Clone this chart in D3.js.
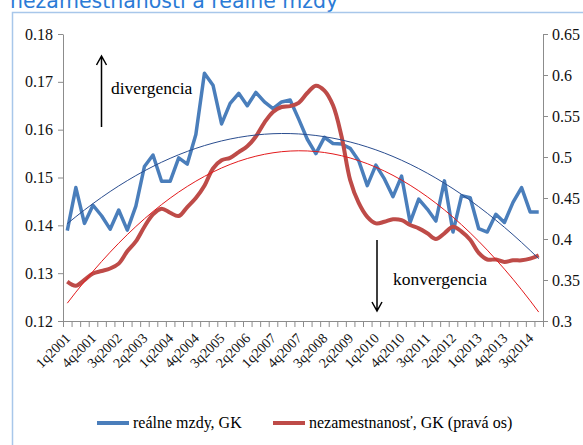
<!DOCTYPE HTML>
<html>
<head>
	<title>Nezamestnanosť a reálne mzdy</title>
	<meta http-equiv="Content-Type" content="text/html; charset=utf-8">
	<script src="https://cdn.jsdelivr.net/npm/d3@7/dist/d3.min.js"></script>
	<style type="text/css">
		body { margin: 0; background-color: #ffffff; }
		.axis path, .axis line { stroke: #8c8c8c; }
	</style>
</head>
<body>
	<div id="picture"></div>
	<script>
var width  = 583;
var height = 445;

var quarters = [
	"1q2001","2q2001","3q2001","4q2001","1q2002","2q2002","3q2002","4q2002",
	"1q2003","2q2003","3q2003","4q2003","1q2004","2q2004","3q2004","4q2004",
	"1q2005","2q2005","3q2005","4q2005","1q2006","2q2006","3q2006","4q2006",
	"1q2007","2q2007","3q2007","4q2007","1q2008","2q2008","3q2008","4q2008",
	"1q2009","2q2009","3q2009","4q2009","1q2010","2q2010","3q2010","4q2010",
	"1q2011","2q2011","3q2011","4q2011","1q2012","2q2012","3q2012","4q2012",
	"1q2013","2q2013","3q2013","4q2013","1q2014","2q2014","3q2014","4q2014"
];

// realne mzdy, GK (left axis)
var wages = [
	0.1389, 0.1479, 0.1404, 0.1442, 0.1420, 0.1392, 0.1432, 0.1390,
	0.1440, 0.1523, 0.1547, 0.1492, 0.1492, 0.1541, 0.1528, 0.1590,
	0.1718, 0.1693, 0.1612, 0.1655, 0.1676, 0.1650, 0.1678, 0.1658,
	0.1644, 0.1658, 0.1662, 0.1622, 0.1580, 0.1550, 0.1584, 0.1571,
	0.1570, 0.1561, 0.1535, 0.1483, 0.1526, 0.1497, 0.1460, 0.1503,
	0.1406, 0.1455, 0.1434, 0.1409, 0.1493, 0.1386, 0.1462, 0.1458,
	0.1393, 0.1386, 0.1423, 0.1406, 0.1448, 0.1479, 0.1428, 0.1428
];

// nezamestnanost, GK (right axis)
var unemployment = [
	0.348, 0.343, 0.350, 0.358, 0.361, 0.364, 0.370, 0.385,
	0.397, 0.415, 0.430, 0.437, 0.432, 0.428, 0.439, 0.450,
	0.465, 0.486, 0.496, 0.499, 0.506, 0.513, 0.525, 0.542,
	0.555, 0.561, 0.562, 0.566, 0.578, 0.587, 0.581, 0.563,
	0.525, 0.472, 0.444, 0.427, 0.419, 0.421, 0.424, 0.423,
	0.417, 0.413, 0.407, 0.400, 0.407, 0.415, 0.409, 0.399,
	0.383, 0.375, 0.375, 0.372, 0.374, 0.374, 0.376, 0.380
];

var leftTicks  = [0.12, 0.13, 0.14, 0.15, 0.16, 0.17, 0.18];
var rightTicks = [0.3, 0.35, 0.4, 0.45, 0.5, 0.55, 0.6, 0.65];
var labelStep  = 3;

var seriesNames = ["reálne mzdy, GK", "nezamestnanosť, GK (pravá os)"];
var title = "nezamestnanosti a reálne mzdy";

var serif = "'Liberation Serif', 'Times New Roman', serif";

// least squares polynomial of order 2 (like the excel trendline)
function QuadFit(values) {
	var s = [0, 0, 0, 0, 0], t = [0, 0, 0];
	values.forEach(function(v, i) {
		var x = i + 1;
		for(var k = 0; k < 5; k++) s[k] += Math.pow(x, k);
		for(k = 0; k < 3; k++) t[k] += v * Math.pow(x, k);
	});
	var m = [[s[0], s[1], s[2], t[0]], [s[1], s[2], s[3], t[1]], [s[2], s[3], s[4], t[2]]];
	for(var c = 0; c < 3; c++)
		for(var r = 0; r < 3; r++) {
			if(r == c) continue;
			var f = m[r][c] / m[c][c];
			for(var k2 = c; k2 < 4; k2++) m[r][k2] -= f * m[c][k2];
		}
	var a = m[0][3] / m[0][0], b = m[1][3] / m[1][1], q = m[2][3] / m[2][2];
	return values.map(function(v, i) { var x = i + 1; return a + b * x + q * x * x; });
}

var plot = {left: 63, right: 543, top: 34, bottom: 321};

var svg = d3.select("#picture")
	.append("svg")
		.attr("width",  width)
		.attr("height", height);

// title (cut by the top edge, as in the source) and frame
svg.append("text")
	.attr("x", 10).attr("y", 8)
	.style("font-family", "'DejaVu Sans', sans-serif")
	.style("font-size", "20.5px")
	.style("fill", "#2b7bd6")
	.text(title);

svg.append("path")
	.attr("d", "M12.5," + height + "V12.5H" + width)
	.attr("fill", "none")
	.attr("stroke", "#a8c7ea")
	.attr("stroke-width", 1.5);

var x = d3.scaleBand()
	.domain(d3.range(quarters.length))
	.range([plot.left, plot.right]);
var xEdge = d3.scaleLinear()
	.domain([0, quarters.length])
	.range([plot.left, plot.right]);
var yL = d3.scaleLinear().domain([0.12, 0.18]).range([plot.bottom, plot.top]);
var yR = d3.scaleLinear().domain([0.3, 0.65]).range([plot.bottom, plot.top]);

function StyleAxis(g) {
	g.attr("font-family", null).attr("font-size", null);
	g.selectAll("text")
		.style("font-family", serif)
		.style("font-size", "16px")
		.style("fill", "#111");
}

svg.append("g")
	.attr("class", "axis")
	.attr("transform", "translate(" + plot.left + ",0)")
	.call(d3.axisLeft(yL).tickValues(leftTicks).tickSize(5).tickSizeOuter(0).tickPadding(5)
		.tickFormat(d3.format(".2f")))
	.call(StyleAxis);

svg.append("g")
	.attr("class", "axis")
	.attr("transform", "translate(" + plot.right + ",0)")
	.call(d3.axisRight(yR).tickValues(rightTicks).tickSize(5).tickSizeOuter(0).tickPadding(4)
		.tickFormat(function(d) { return String(+d.toFixed(2)); }))
	.call(StyleAxis);

svg.append("g")
	.attr("class", "axis")
	.attr("transform", "translate(0," + plot.bottom + ")")
	.call(d3.axisBottom(xEdge).tickValues(d3.range(quarters.length + 1)).tickSize(6)
		.tickSizeOuter(0).tickFormat(""));

svg.append("g")
	.selectAll("text")
	.data(d3.range(0, quarters.length, labelStep))
	.join("text")
		.style("font-family", serif)
		.style("font-size", "14px")
		.style("fill", "#111")
		.attr("text-anchor", "end")
		.attr("transform", function(i) {
			return "translate(" + (x(i) + x.bandwidth() / 2 + 4) + ",339) rotate(-45)";
		})
		.text(function(i) { return quarters[i]; });

// series
var lineL = d3.line()
	.x(function(d, i) { return x(i) + x.bandwidth() / 2; })
	.y(function(d) { return yL(d); });
var lineR = d3.line()
	.x(function(d, i) { return x(i) + x.bandwidth() / 2; })
	.y(function(d) { return yR(d); })
	.curve(d3.curveCatmullRom);

svg.append("path")
	.attr("d", lineL(wages))
	.attr("fill", "none").attr("stroke", "#4a7ebb")
	.attr("stroke-width", 3.5).attr("stroke-linejoin", "round");

svg.append("path")
	.attr("d", lineR(unemployment))
	.attr("fill", "none").attr("stroke", "#be4b48")
	.attr("stroke-width", 4).attr("stroke-linejoin", "round");

// trendlines
svg.append("path")
	.attr("d", lineL.curve(d3.curveMonotoneX)(QuadFit(wages)))
	.attr("fill", "none").attr("stroke", "#2a4d8f").attr("stroke-width", 1);

svg.append("path")
	.attr("d", lineR.curve(d3.curveMonotoneX)(QuadFit(unemployment)))
	.attr("fill", "none").attr("stroke", "#e31a1c").attr("stroke-width", 1);

// annotations
function Arrow(px, y0, y1) {
	var dir = y1 < y0 ? 1 : -1;
	svg.append("path")
		.attr("d", "M" + px + "," + y0 + "V" + y1 +
			"M" + (px - 5) + "," + (y1 + dir * 9) + "L" + px + "," + y1 + "L" + (px + 5) + "," + (y1 + dir * 9))
		.attr("fill", "none").attr("stroke", "#000").attr("stroke-width", 1.5);
}
Arrow(101.5, 127, 56);
Arrow(377, 240, 311);

svg.append("text").style("font-family", serif).style("font-size", "17.5px")
	.attr("x", 111).attr("y", 94).text("divergencia");
svg.append("text").style("font-family", serif).style("font-size", "17.5px")
	.attr("x", 393).attr("y", 285).text("konvergencia");

// legend
var legend = [
	{name: seriesNames[0], color: "#4a7ebb", x: 97},
	{name: seriesNames[1], color: "#be4b48", x: 273}
];
legend.forEach(function(l) {
	svg.append("line")
		.attr("x1", l.x).attr("x2", l.x + 32).attr("y1", 423).attr("y2", 423)
		.attr("stroke", l.color).attr("stroke-width", 4);
	svg.append("text").style("font-family", serif).style("font-size", "16px")
		.attr("x", l.x + 36).attr("y", 428).text(l.name);
});
	</script>
</body>
</html>
